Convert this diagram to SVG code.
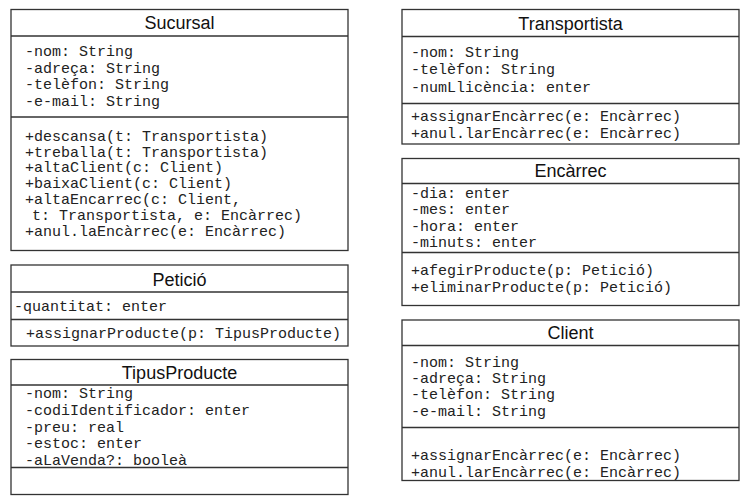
<svg xmlns="http://www.w3.org/2000/svg" width="748" height="498" viewBox="0 0 748 498">
<style>
.box{fill:#fff;stroke:#333;stroke-width:1.3}
.div{stroke:#333;stroke-width:1.3}
.title{font-family:"Liberation Sans",Arial,sans-serif;font-size:18px;fill:#111;text-anchor:middle}
.m{font-family:"Liberation Mono","Courier New",monospace;font-size:15px;fill:#222}
</style>
<rect width="748" height="498" fill="#fff"/>
<g id="Sucursal">
<rect class="box" x="11" y="9.5" width="337" height="241"/>
<line class="div" x1="11" y1="36" x2="348" y2="36"/>
<line class="div" x1="11" y1="117" x2="348" y2="117"/>
<text class="title" x="179.5" y="29">Sucursal</text>
<text class="m" x="25" y="56">-nom: String</text>
<text class="m" x="25" y="72.5">-adreça: String</text>
<text class="m" x="25" y="89">-telèfon: String</text>
<text class="m" x="25" y="106">-e-mail: String</text>
<text class="m" x="25" y="141">+descansa(t: Transportista)</text>
<text class="m" x="25" y="156.5">+treballa(t: Transportista)</text>
<text class="m" x="25" y="172">+altaClient(c: Client)</text>
<text class="m" x="25" y="188">+baixaClient(c: Client)</text>
<text class="m" x="25" y="204">+altaEncarrec(c: Client,</text>
<text class="m" x="32" y="219.5">t: Transportista, e: Encàrrec)</text>
<text class="m" x="25" y="235.5">+anul.laEncàrrec(e: Encàrrec)</text>
</g>
<g id="Peticio">
<rect class="box" x="11" y="265" width="337" height="81"/>
<line class="div" x1="11" y1="292" x2="348" y2="292"/>
<line class="div" x1="11" y1="319.5" x2="348" y2="319.5"/>
<text class="title" x="179.5" y="285.5">Petició</text>
<text class="m" x="14" y="311">-quantitat: enter</text>
<text class="m" x="26" y="338">+assignarProducte(p: TipusProducte)</text>
</g>
<g id="TipusProducte">
<rect class="box" x="11" y="359.5" width="337" height="135"/>
<line class="div" x1="11" y1="385" x2="348" y2="385"/>
<line class="div" x1="11" y1="467.5" x2="348" y2="467.5"/>
<text class="title" x="179.5" y="379">TipusProducte</text>
<text class="m" x="25" y="397.5">-nom: String</text>
<text class="m" x="25" y="414.5">-codiIdentificador: enter</text>
<text class="m" x="25" y="431.5">-preu: real</text>
<text class="m" x="25" y="448">-estoc: enter</text>
<text class="m" x="25" y="464.5">-aLaVenda?: booleà</text>
</g>
<g id="Transportista">
<rect class="box" x="402" y="9.5" width="337" height="134.5"/>
<line class="div" x1="402" y1="36.5" x2="739" y2="36.5"/>
<line class="div" x1="402" y1="103.5" x2="739" y2="103.5"/>
<text class="title" x="570.5" y="29.5">Transportista</text>
<text class="m" x="411" y="57">-nom: String</text>
<text class="m" x="411" y="74">-telèfon: String</text>
<text class="m" x="411" y="91.5">-numLlicència: enter</text>
<text class="m" x="411" y="121">+assignarEncàrrec(e: Encàrrec)</text>
<text class="m" x="411" y="138">+anul.larEncàrrec(e: Encàrrec)</text>
</g>
<g id="Encarrec">
<rect class="box" x="402" y="158.5" width="337" height="147"/>
<line class="div" x1="402" y1="183.5" x2="739" y2="183.5"/>
<line class="div" x1="402" y1="252.5" x2="739" y2="252.5"/>
<text class="title" x="570.5" y="177">Encàrrec</text>
<text class="m" x="411" y="197.5">-dia: enter</text>
<text class="m" x="411" y="214">-mes: enter</text>
<text class="m" x="411" y="230.5">-hora: enter</text>
<text class="m" x="411" y="247">-minuts: enter</text>
<text class="m" x="411" y="274.5">+afegirProducte(p: Petició)</text>
<text class="m" x="411" y="291.5">+eliminarProducte(p: Petició)</text>
</g>
<g id="Client">
<rect class="box" x="402" y="320" width="337" height="160.5"/>
<line class="div" x1="402" y1="345.5" x2="739" y2="345.5"/>
<line class="div" x1="402" y1="427.5" x2="739" y2="427.5"/>
<text class="title" x="570.5" y="339">Client</text>
<text class="m" x="411" y="366.5">-nom: String</text>
<text class="m" x="411" y="382.5">-adreça: String</text>
<text class="m" x="411" y="399">-telèfon: String</text>
<text class="m" x="411" y="415.5">-e-mail: String</text>
<text class="m" x="411" y="459.5">+assignarEncàrrec(e: Encàrrec)</text>
<text class="m" x="411" y="476.5">+anul.larEncàrrec(e: Encàrrec)</text>
</g>
<g id="connectors"></g>
</svg>
